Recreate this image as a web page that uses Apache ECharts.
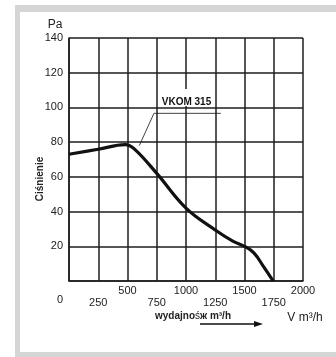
<!DOCTYPE html>
<html>
<head>
<meta charset="utf-8">
<script src="https://cdn.jsdelivr.net/npm/echarts@6/dist/echarts.min.js"></script>
<style>
  html, body { margin: 0; padding: 0; background: #fff; }
  #main { width: 336px; height: 357px; }
</style>
</head>
<body>
<div id="main"></div>
<script>
// dane krzywej VKOM 315 (wydajnosc m3/h, cisnienie Pa)
var flow = [0, 250, 480, 560, 750, 1000, 1250, 1400, 1500, 1580, 1660, 1745];
var pressure = [73, 75.9, 78.6, 76, 62, 42, 29.4, 23, 20, 16.2, 8.6, 0];
var leaderPts = [[601, 78], [726, 96.6], [1297, 96.6]];
var seriesName = 'VKOM 315';

var curve = [];
for (var i = 0; i < flow.length; i++) {
  curve.push([flow[i], pressure[i]]);
}

var font = '"Liberation Sans", Arial, sans-serif';
var gridColor = '#1e1e1e';

var myChart = echarts.init(document.getElementById('main'));
var option = {
  backgroundColor: '#fff',
  animation: false,
  grid: { left: 69, right: 33, top: 38, bottom: 76 },
  xAxis: {
    type: 'value',
    min: 0, max: 2000, interval: 250,
    axisLine: { show: true, lineStyle: { color: gridColor, width: 1.5 } },
    axisTick: { show: false },
    splitLine: { show: true, lineStyle: { color: gridColor, width: 1.5 } },
    axisLabel: {
      margin: 4,
      color: '#222',
      fontFamily: font,
      fontSize: 11,
      formatter: function (v) {
        if (v === 0) return '{z|0}';
        if (v % 500 === 0) return '{a|' + v + '}';
        return '{b|' + v + '}';
      },
      rich: {
        a: { fontFamily: font, fontSize: 11, color: '#222' },
        b: { fontFamily: font, fontSize: 11, color: '#222', padding: [12, 0, 0, 0] },
        z: { fontFamily: font, fontSize: 11, color: '#222', padding: [9, 18, 0, 0] }
      }
    }
  },
  yAxis: {
    type: 'value',
    min: 0, max: 140, interval: 20,
    axisLine: { show: true, lineStyle: { color: gridColor, width: 1.5 } },
    axisTick: { show: false },
    splitLine: { show: true, lineStyle: { color: gridColor, width: 1.5 } },
    axisLabel: {
      margin: 6,
      color: '#222',
      fontFamily: font,
      fontSize: 11,
      formatter: function (v) { return v === 0 ? '' : v; }
    }
  },
  series: [
    {
      name: seriesName,
      type: 'line',
      data: curve,
      smooth: 0.4,
      showSymbol: false,
      lineStyle: { color: '#111', width: 3.2 },
      z: 5
    },
    {
      type: 'line',
      data: leaderPts,
      showSymbol: false,
      lineStyle: { color: '#111', width: 0.8 },
      z: 4
    }
  ],
  graphic: [
    // szara ramka
    { type: 'rect', z: -10, shape: { x: 15, y: 5, width: 340, height: 360 }, style: { fill: '#d5d5d5' } },
    { type: 'rect', z: -9, shape: { x: 20, y: 12, width: 330, height: 340 }, style: { fill: '#fff' } },
    // przerwa w siatce pod etykieta
    { type: 'rect', z: 10, shape: { x: 182, y: 89, width: 8, height: 17 }, style: { fill: '#fff' } },
    { type: 'text', z: 11, x: 186.5, y: 102.5, style: { text: seriesName, fill: '#111', font: 'bold 10px ' + font, textAlign: 'center', textVerticalAlign: 'middle' } },
    { type: 'text', z: 11, x: 55, y: 25, style: { text: 'Pa', fill: '#222', font: '12px ' + font, textAlign: 'center', textVerticalAlign: 'middle' } },
    { type: 'text', z: 11, x: 40, y: 179, rotation: Math.PI / 2, style: { text: 'Ciśnienie', fill: '#222', font: 'bold 10px ' + font, textAlign: 'center', textVerticalAlign: 'middle' } },
    {
      type: 'text', z: 11, x: 193, y: 316,
      style: {
        text: '{b|wydajno}{n|ś}{b|ж m³/h}',
        textAlign: 'center', textVerticalAlign: 'middle',
        rich: {
          b: { fill: '#222', fontFamily: font, fontSize: 10, fontWeight: 'bold' },
          n: { fill: '#222', fontFamily: font, fontSize: 10, fontWeight: 'normal' }
        }
      }
    },
    { type: 'text', z: 11, x: 305, y: 318, style: { text: 'V m³/h', fill: '#222', font: '12px ' + font, textAlign: 'center', textVerticalAlign: 'middle' } },
    { type: 'line', z: 11, shape: { x1: 200, y1: 324, x2: 255, y2: 324 }, style: { stroke: '#111', lineWidth: 1.3 } },
    { type: 'polygon', z: 11, shape: { points: [[254, 321], [263, 324], [254, 327]] }, style: { fill: '#111' } }
  ]
};
myChart.setOption(option);
</script>
</body>
</html>
